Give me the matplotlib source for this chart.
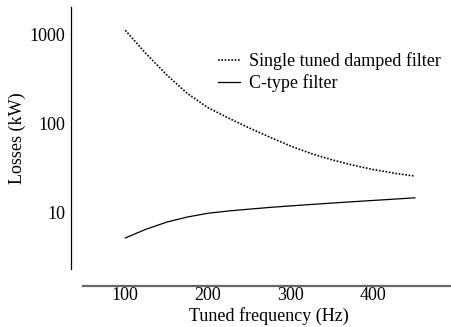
import numpy as np
import matplotlib.pyplot as plt

plt.rcParams['font.family'] = 'Liberation Serif'
plt.rcParams['font.size'] = 13

# data
freq = [100, 125, 150, 175, 200, 225, 250, 275, 300, 325, 350, 375, 400, 425, 450]
single_tuned = [1130, 617, 355, 219, 151, 115, 89, 70, 55.6, 45.7, 38.9, 33.9, 30.2, 27.5, 25.5]
c_type = [5.1, 6.4, 7.7, 8.8, 9.7, 10.3, 10.8, 11.3, 11.75, 12.2, 12.65, 13.1, 13.55, 14.0, 14.5]
xticks = [100, 200, 300, 400]
yticks = [10, 100, 1000]

fig = plt.figure(figsize=(4.51, 3.27), dpi=100)
ax = fig.add_axes([0.1585, 0.177, 0.853, 0.8016])

ax.plot(freq, single_tuned, color='black', linestyle=(0, (1, 1)), linewidth=1.2,
        label='Single tuned damped filter')
ax.plot(freq, c_type, color='black', linewidth=0.9, label='C-type filter')

ax.set_yscale('log')
ax.set_xlim(35, 500)
ax.set_ylim(2.27, 2070)
ax.set_xticks(xticks)
ax.set_xticklabels([str(t) for t in xticks])
ax.set_yticks(yticks)
ax.set_yticklabels([str(t) for t in yticks])
ax.yaxis.set_minor_locator(plt.NullLocator())
ax.tick_params(length=0, pad=4.7)
ax.tick_params(axis='x', pad=1.2)

ax.spines['top'].set_visible(False)
ax.spines['right'].set_visible(False)
ax.spines['left'].set_linewidth(0.9)
ax.spines['bottom'].set_position(('outward', 12))
ax.spines['bottom'].set_bounds(49, 500)
ax.spines['bottom'].set_color('#666666')
ax.spines['bottom'].set_linewidth(1.6)

ax.set_xlabel('Tuned frequency (Hz)')
ax.xaxis.set_label_coords(0.514, -0.145)
ax.set_ylabel('Losses (kW)')
ax.yaxis.set_label_coords(-0.118, 0.5)

ax.legend(loc='upper left', bbox_to_anchor=(218 / 451, 1 - 52 / 327), bbox_transform=fig.transFigure,
          frameon=False, borderpad=0, borderaxespad=0, handlelength=1.2, handletextpad=0.5,
          labelspacing=0.25)

fig.savefig('out.png', dpi=100)
